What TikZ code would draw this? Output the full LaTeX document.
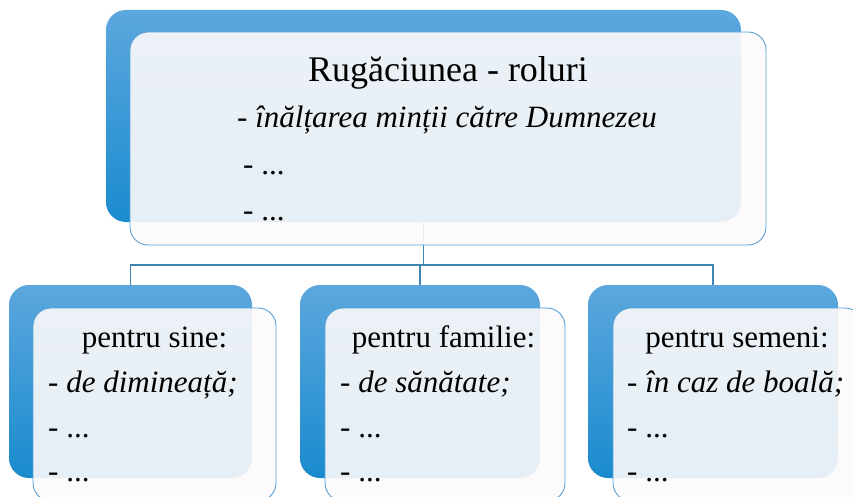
\documentclass[tikz,border=0pt]{standalone}
\usepackage{fontspec}
\setmainfont{Liberation Serif}
\usepackage{tikz}
\definecolor{blueTop}{RGB}{92,167,222}
\definecolor{blueBot}{RGB}{26,139,206}
\definecolor{rim}{RGB}{88,160,214}
\definecolor{link}{RGB}{66,132,180}
\definecolor{frontFill}{RGB}{252,250,250}
\begin{document}
\begin{tikzpicture}[x=1pt,y=-1pt]
    \tikzstyle{back}=[rectangle,rounded corners=20pt,draw=none,top color=blueTop,bottom color=blueBot,inner sep=0pt]
    \tikzstyle{front}=[rectangle,rounded corners=18pt,draw=rim,line width=0.9pt,fill=frontFill,fill opacity=0.9,inner sep=0pt]
    \tikzstyle{head}=[inner sep=0pt,anchor=base,font=\fontsize{31}{31}\selectfont]
    \tikzstyle{item}=[inner sep=0pt,anchor=base west,font=\fontsize{31}{31}\selectfont]
    \useasboundingbox (0,0) rectangle (853,497);

    % back boxes
    \node (topb)[back,minimum width=635pt,minimum height=212pt] at (423.5,116) {};
    \node (sineb)[back,minimum width=243pt,minimum height=193pt] at (130.5,381.5) {};
    \node (famb)[back,minimum width=240pt,minimum height=193pt] at (420,381.5) {};
    \node (semb)[back,minimum width=250pt,minimum height=193pt] at (713,381.5) {};

    \coordinate (bus) at (423.5,265);
    \draw[link,line width=1.1pt] (topb.south) -- (bus);
    \draw[link,line width=1.1pt] (bus) -| (sineb.north);
    \draw[link,line width=1.1pt] (bus) -| (famb.north);
    \draw[link,line width=1.1pt] (bus) -| (semb.north);

    % front boxes
    \node (topf)[front,minimum width=636pt,minimum height=213pt] at (448,138.5) {};
    \node (sinef)[front,minimum width=243pt,minimum height=193pt] at (154.5,404.5) {};
    \node (famf)[front,minimum width=240pt,minimum height=193pt] at (445,404.5) {};
    \node (semf)[front,minimum width=250pt,minimum height=193pt] at (738,404.5) {};

    % texts
    \node (title)[head,font=\fontsize{36}{36}\selectfont] at (448,82) {Rugăciunea - roluri};
    \node (rol1)[head] at (447,128) {\itshape - înălțarea minții către Dumnezeu};
    \node (rol2)[item] at (243,175) {- ...};
    \node (rol3)[item] at (243,220) {- ...};

    \node (sine)[head] at (154.5,347) {pentru sine:};
    \node (sine1)[item] at (48,392) {- \itshape de dimineață;};
    \node (sine2)[item] at (48,437) {- ...};
    \node (sine3)[item] at (48,481) {- ...};

    \node (fam)[head] at (443.5,347) {pentru familie:};
    \node (fam1)[item] at (340,392) {- \itshape de sănătate;};
    \node (fam2)[item] at (340,437) {- ...};
    \node (fam3)[item] at (340,481) {- ...};

    \node (sem)[head] at (737,347) {pentru semeni:};
    \node (sem1)[item] at (627,392) {- \itshape în caz de boală;};
    \node (sem2)[item] at (627,437) {- ...};
    \node (sem3)[item] at (627,481) {- ...};
\end{tikzpicture}
\end{document}
